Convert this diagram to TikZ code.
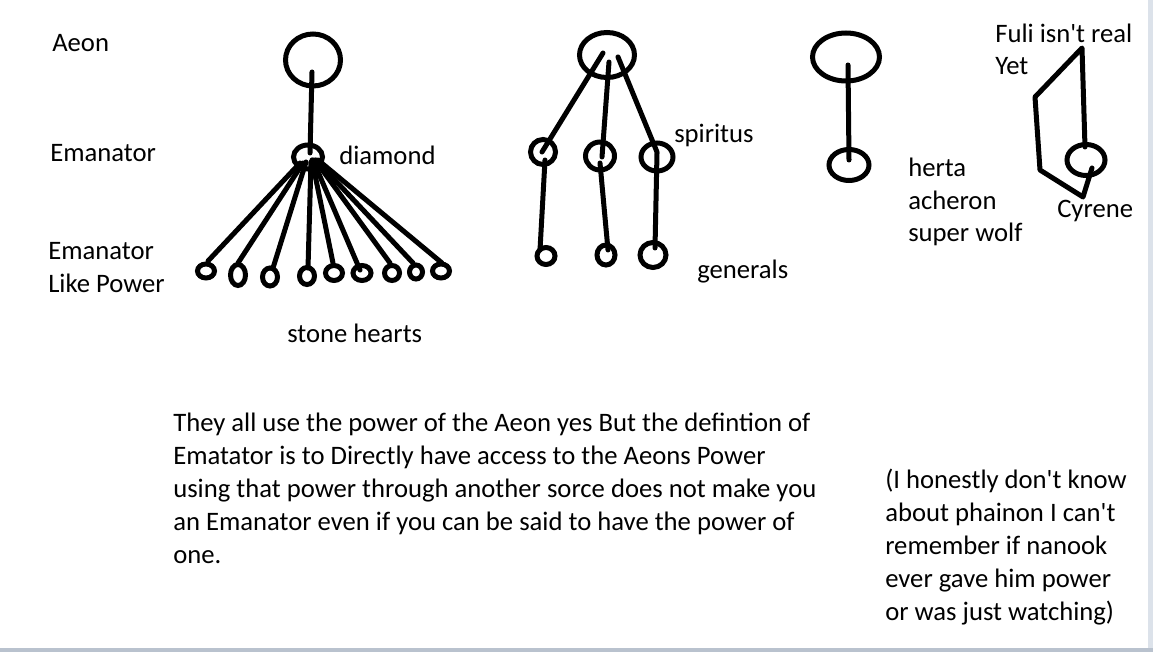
\documentclass[tikz,border=0pt]{standalone}
\usepackage{fontspec}
\setmainfont{Carlito}[Ligatures=TeXOff]
\usetikzlibrary{shapes.geometric}
\definecolor{frame}{HTML}{B9C2CE}
\definecolor{framelt}{HTML}{DCE2EA}
\tikzset{
  ring/.style={draw, ellipse, line width=3.75pt, inner sep=0pt},
  stroke/.style={line width=3.75pt, line cap=round, line join=round},
  lbl/.style={anchor=base west, inner sep=0pt, font=\fontsize{20}{24}\selectfont}
}
\begin{document}
\begin{tikzpicture}[x=0.75pt, y=-0.75pt]
\useasboundingbox (0,0) rectangle (1153,652);
\fill[white] (0,0) rectangle (1153,652);
\fill[framelt] (1148,0) rectangle (1153,652);
\fill[frame] (0,648) rectangle (1153,652);

% ---------- tree 1 ----------
\node[ring, minimum width=41.25pt, minimum height=39pt] (a1) at (313,60) {};
\node[ring, minimum width=21.75pt, minimum height=18pt] (e1) at (308,157) {};
\node[ring, minimum width=12.75pt, minimum height=10.5pt] (s1) at (206,271) {};
\node[ring, minimum width=11.25pt, minimum height=15.75pt] (s2) at (238,275) {};
\node[ring, minimum width=11.25pt, minimum height=13.5pt] (s3) at (270,277) {};
\node[ring, minimum width=11.25pt, minimum height=12.75pt] (s4) at (307,276) {};
\node[ring, minimum width=12.75pt, minimum height=11.25pt] (s5) at (334,273) {};
\node[ring, minimum width=13.5pt, minimum height=11.25pt] (s6) at (362,273) {};
\node[ring, minimum width=11.25pt, minimum height=11.25pt] (s7) at (392,273) {};
\node[ring, minimum width=9.75pt, minimum height=10.5pt] (s8) at (416,272) {};
\node[ring, minimum width=12.75pt, minimum height=10.5pt] (s9) at (441,271) {};

\coordinate (a1b) at (312,72);
\coordinate (e1t) at (310,153);
\draw[stroke] (a1b) -- (e1t);
\coordinate (h1) at (300,163);
\coordinate (h2) at (303,163);
\coordinate (h3) at (306,162);
\coordinate (h4) at (311,162);
\coordinate (h5) at (312,160);
\coordinate (h6) at (313,160);
\coordinate (h7) at (315,160);
\coordinate (h8) at (316,160);
\coordinate (h9) at (318,160);
\coordinate (t1) at (208,261);
\coordinate (t2) at (238,263);
\coordinate (t3) at (273,268);
\coordinate (t4) at (308,268);
\coordinate (t5) at (333,263);
\coordinate (t6) at (360,270);
\coordinate (t7) at (390,263);
\coordinate (t8) at (413,263);
\coordinate (t9) at (442,263);
\foreach \i in {1,...,9} { \draw[stroke] (h\i) -- (t\i); }

% ---------- tree 2 ----------
\node[ring, minimum width=41.25pt, minimum height=33.75pt] (a2) at (607,55) {};
\node[ring, minimum width=18.75pt, minimum height=18.75pt] (p1) at (543,152) {};
\node[ring, minimum width=21.75pt, minimum height=21pt] (p2) at (600,156) {};
\node[ring, minimum width=24pt, minimum height=21pt] (p3) at (657,157) {};
\node[ring, minimum width=13.5pt, minimum height=12.75pt] (g1) at (546,256) {};
\node[ring, minimum width=13.5pt, minimum height=15pt] (g2) at (606,255) {};
\node[ring, minimum width=19.5pt, minimum height=18.75pt] (g3) at (653,255) {};
\coordinate (a2l) at (603,53);
\coordinate (a2m) at (609,62);
\coordinate (a2r) at (618,57);
\coordinate (p1t) at (542,152);
\coordinate (p2t) at (602,157);
\coordinate (p3t) at (657,152);
\coordinate (p1b) at (545,160);
\coordinate (p2b) at (600,163);
\coordinate (p3b) at (657,153);
\coordinate (g1t) at (540,250);
\coordinate (g2t) at (608,250);
\coordinate (g3t) at (655,248);
\draw[stroke] (a2l) -- (p1t);
\draw[stroke] (a2m) -- (p2t);
\draw[stroke] (a2r) -- (p3t);
\draw[stroke] (p1b) -- (g1t);
\draw[stroke] (p2b) -- (g2t);
\draw[stroke] (p3b) -- (g3t);

% ---------- tree 3 ----------
\node[ring, minimum width=50.25pt, minimum height=36pt] (a3) at (846,57) {};
\node[ring, minimum width=30pt, minimum height=23.25pt] (hh) at (849,165) {};
\coordinate (a3b) at (848,65);
\coordinate (hht) at (849,160);
\draw[stroke] (a3b) -- (hht);

% ---------- tree 4 ----------
\node[ring, minimum width=28.5pt, minimum height=23.25pt] (cy) at (1086,160) {};
\coordinate (f1) at (1085,147);
\coordinate (f2) at (1082,48);
\coordinate (f3) at (1035,97);
\coordinate (f4) at (1040,170);
\coordinate (f5) at (1083,197);
\coordinate (f6) at (1092,168);
\draw[stroke] (f1) -- (f2) -- (f3) -- (f4) -- (f5) -- (f6);

% ---------- labels ----------
\node[lbl] (l1) at (52,52) {Aeon};
\node[lbl] (l2) at (50,162) {Emanator};
\node[lbl] (l3) at (48,260) {Emanator};
\node[lbl] (l4) at (48,292) {Like Power};
\node[lbl] (l5) at (339,165) {diamond};
\node[lbl] (l6) at (287,343) {stone hearts};
\node[lbl] (l7) at (674,143) {spiritus};
\node[lbl] (l8) at (697,279) {generals};
\node[lbl] (l9) at (908,177) {herta};
\node[lbl] (l10) at (908,210) {acheron};
\node[lbl] (l11) at (908,242) {super wolf};
\node[lbl] (l12) at (995,43) {Fuli isn't real};
\node[lbl] (l13) at (995,75) {Yet};
\node[lbl] (l14) at (1057,218) {Cyrene};

\node[lbl] (m1) at (173,431) {They all use the power of the Aeon yes But the defintion of};
\node[lbl] (m2) at (173,464) {Ematator is to Directly have access to the Aeons Power};
\node[lbl] (m3) at (173,497) {using that power through another sorce does not make you};
\node[lbl] (m4) at (173,530) {an Emanator even if you can be said to have the power of};
\node[lbl] (m5) at (173,563) {one.};

\node[lbl] (r1) at (885,488) {(I honestly don't know};
\node[lbl] (r2) at (885,521) {about phainon I can't};
\node[lbl] (r3) at (885,554) {remember if nanook};
\node[lbl] (r4) at (885,587) {ever gave him power};
\node[lbl] (r5) at (885,620) {or was just watching)};
\end{tikzpicture}
\end{document}
